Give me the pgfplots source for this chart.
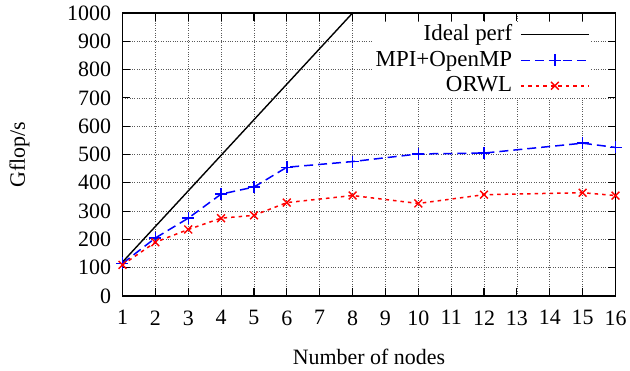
\documentclass[border=0pt]{standalone}
\usepackage{pgfplots}
\pgfplotsset{compat=1.18}
\usepackage{fontspec}
\setmainfont{Liberation Serif}
\begin{document}
\fontsize{22}{25}\selectfont
\begin{tikzpicture}
\useasboundingbox (-122.5bp,-75bp) rectangle (507.5bp,296bp);
\begin{axis}[
  at={(0,0)}, anchor=south west,
  scale only axis,
  width=493bp, height=283bp,
  xmin=1, xmax=16, ymin=0, ymax=1000,
  xtick={1,2,...,16},
  ytick={0,100,...,1000},
  tick align=inside,
  major tick length=8bp,
  axis line style={line width=1.4pt},
  tick style={line width=1.2pt, black},
  grid=major,
  grid style={dotted, gray!70!black, line width=0.7pt},
  xlabel={Number of nodes},
  ylabel={Gflop/s},
  ylabel style={at={(axis description cs:0,0.5)}, anchor=center, yshift=103bp},
  xlabel style={at={(axis description cs:0.5,0)}, anchor=center, yshift=-61bp},
  xticklabel style={yshift=-7bp},
  yticklabel style={xshift=-4bp},
  /pgf/number format/assume math mode=true,
  /pgf/number format/1000 sep={},
  ticklabel style={font=\fontsize{22}{25}\selectfont},
  label style={font=\fontsize{22}{25}\selectfont},
  legend style={at={(0.95,0.97)}, anchor=north east, draw=none, fill=white, font=\fontsize{23}{26}\selectfont, row sep=3bp, inner sep=1bp, column sep=6bp},
  legend cell align=right,
  legend plot pos=right,
  legend image code/.code={\draw[mark repeat=2,mark phase=2,#1] plot coordinates {(0bp,0bp) (34bp,0bp) (68bp,0bp)};},
  clip=true,
]
\addplot[black, line width=1.4pt] coordinates {(1,120) (8,1000) (16,2000)};
\addlegendentry{Ideal perf}
\addplot[color=blue, line width=1.5pt, dash pattern=on 9bp off 5bp, mark=+, mark size=6bp, mark options={solid, line width=1.4pt, blue}]
 coordinates {(1,115) (2,205) (3,275) (4,360) (5,385) (6,455) (8,475) (10,502) (12,505) (15,540) (16,525)};
\addlegendentry{MPI+OpenMP}
\addplot[color=red, line width=1.5pt, dash pattern=on 3.5bp off 4bp, mark=x, mark size=5.5bp, mark options={solid, line width=1.4pt, red}]
 coordinates {(1,110) (2,190) (3,235) (4,275) (5,285) (6,330) (8,355) (10,327) (12,358) (15,365) (16,355)};
\addlegendentry{ORWL}
\end{axis}
\end{tikzpicture}
\end{document}
